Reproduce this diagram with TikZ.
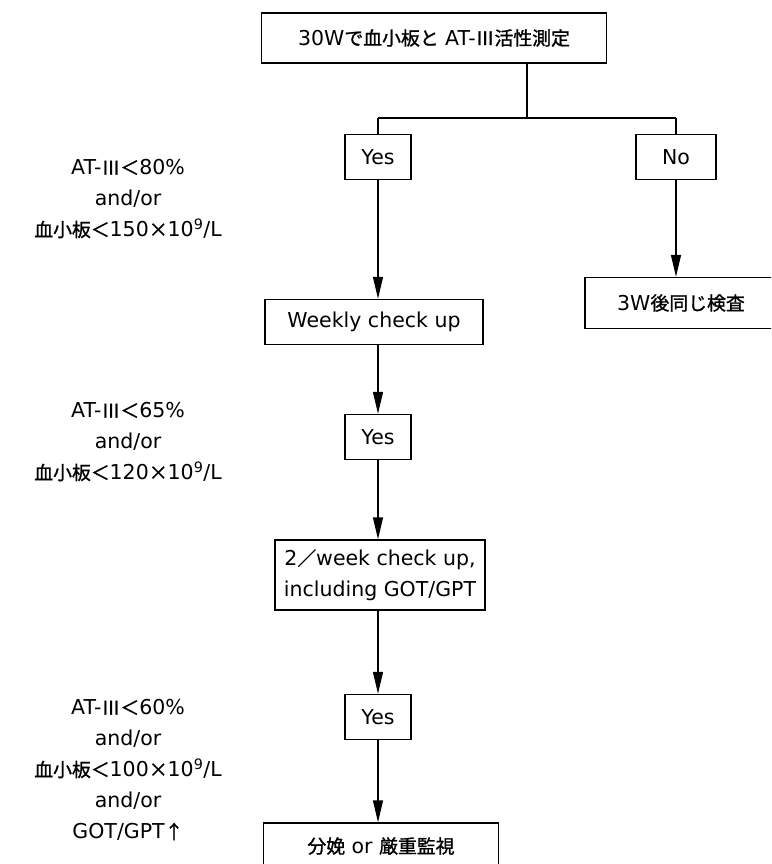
\documentclass[tikz,border=0pt]{standalone}
\usepackage{fontspec}
\setmainfont{DejaVu Sans}
\newfontfamily\jp{Noto Sans CJK JP}[Scale=0.92, FakeBold=1.2]
\usetikzlibrary{arrows.meta}

\tikzset{
  box/.style={draw, line width=1.4pt, inner sep=0pt, align=center},
  lbl/.style={align=center},
  arw/.style={line width=1.4pt, -{Triangle[length=22pt,width=10pt]}},
  lin/.style={line width=1.4pt}
}

\begin{document}
\begin{tikzpicture}[x=1pt,y=-1pt, font=\fontsize{20.5}{31}\selectfont]
        \useasboundingbox (0,0) rectangle (771,864);
        \clip (0,0) rectangle (771,864);
        % Kasten
        \node[box, minimum width=345pt, minimum height=50pt] (top) at (434,38) {30W{\jp で血小板と} AT-{\jp Ⅲ活性測定}};
        \node[box, minimum width=66pt, minimum height=45pt] (yes1) at (378,157) {Yes};
        \node[box, minimum width=80pt, minimum height=45pt] (no1) at (676,157) {No};
        \node[box, minimum width=218pt, minimum height=45pt] (weekly) at (374,322) {Weekly check up};
        \node[box, minimum width=192pt, minimum height=51pt] (three) at (681,303) {3W{\jp 後同じ検査}};
        \node[box, minimum width=66pt, minimum height=45pt] (yes2) at (378,437) {Yes};
        \node[box, minimum width=210pt, minimum height=70pt] (twoweek) at (380,575) {2{\jp ／}week check up,\\including GOT/GPT};
        \node[box, minimum width=66pt, minimum height=45pt] (yes3) at (378,717) {Yes};
        \node[box, minimum width=235pt, minimum height=46pt] (final) at (381,846) {{\jp 分娩} or {\jp 厳重監視}};
        % Bedingungen
        \node[lbl] (cond1) at (128,199) {AT-{\jp Ⅲ＜}80\%\\and/or\\{\jp 血小板＜}150{\jp ×}10\textsuperscript{9}/L};
        \node[lbl] (cond2) at (128,442) {AT-{\jp Ⅲ＜}65\%\\and/or\\{\jp 血小板＜}120{\jp ×}10\textsuperscript{9}/L};
        \node[lbl] (cond3) at (128,770) {AT-{\jp Ⅲ＜}60\%\\and/or\\{\jp 血小板＜}100{\jp ×}10\textsuperscript{9}/L\\and/or\\GOT/GPT{\jp ↑}};
        % Verzweigung
        \coordinate (split) at (527,118);
        \draw[lin] (top.south -| split) -- (split);
        \draw[lin] (yes1.north |- split) -- (no1.north |- split);
        \draw[lin] (yes1.north |- split) -- (yes1.north);
        \draw[lin] (no1.north |- split) -- (no1.north);
        % Pfeile
        \draw[arw] (yes1.south) -- (yes1.south |- weekly.north);
        \draw[arw] (no1.south) -- (no1.south |- three.north);
        \draw[arw] (yes2.south |- weekly.south) -- (yes2.north);
        \draw[arw] (yes2.south) -- (yes2.south |- twoweek.north);
        \draw[arw] (yes3.north |- twoweek.south) -- (yes3.north);
        \draw[arw] (yes3.south) -- (yes3.south |- final.north);
    \end{tikzpicture}
\end{document}
